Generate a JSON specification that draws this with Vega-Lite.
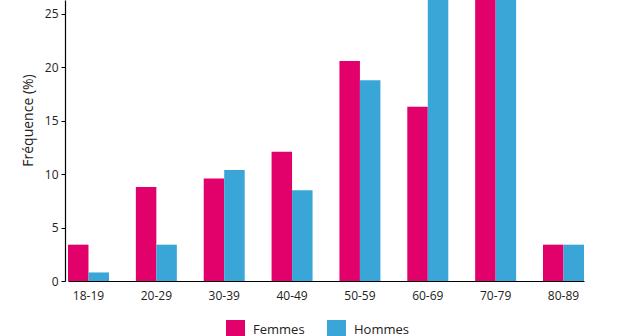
{
  "$schema": "https://vega.github.io/schema/vega-lite/v6.json",
  "autosize": "none",
  "width": 535,
  "height": 281,
  "padding": {"left": 65, "top": 0, "right": 23, "bottom": 55},
  "background": "white",
  "config": {
    "font": "Open Sans",
    "view": {"stroke": null},
    "axis": {"labelFont": "Open Sans", "titleFont": "Open Sans", "grid": false}
  },
  "data": {
    "values": [
      {"age": "18-19", "sexe": "Femmes", "freq": 3.4},
      {"age": "18-19", "sexe": "Hommes", "freq": 0.8},
      {"age": "20-29", "sexe": "Femmes", "freq": 8.8},
      {"age": "20-29", "sexe": "Hommes", "freq": 3.4},
      {"age": "30-39", "sexe": "Femmes", "freq": 9.6},
      {"age": "30-39", "sexe": "Hommes", "freq": 10.4},
      {"age": "40-49", "sexe": "Femmes", "freq": 12.1},
      {"age": "40-49", "sexe": "Hommes", "freq": 8.5},
      {"age": "50-59", "sexe": "Femmes", "freq": 20.6},
      {"age": "50-59", "sexe": "Hommes", "freq": 18.8},
      {"age": "60-69", "sexe": "Femmes", "freq": 16.3},
      {"age": "60-69", "sexe": "Hommes", "freq": 27.5},
      {"age": "70-79", "sexe": "Femmes", "freq": 27.0},
      {"age": "70-79", "sexe": "Hommes", "freq": 27.2},
      {"age": "80-89", "sexe": "Femmes", "freq": 3.4},
      {"age": "80-89", "sexe": "Hommes", "freq": 3.4}
    ]
  },
  "mark": {"type": "bar", "clip": true},
  "encoding": {
    "x": {
      "field": "age",
      "type": "nominal",
      "sort": null,
      "scale": {"range": [3, 519], "paddingInner": 0.396, "paddingOuter": 0},
      "axis": {
        "title": null,
        "labelAngle": 0,
        "ticks": false,
        "domainColor": "#000000",
        "domainWidth": 1.2,
        "labelColor": "#222222",
        "labelFontSize": 12,
        "labelPadding": 9
      }
    },
    "xOffset": {"field": "sexe", "type": "nominal", "scale": {"paddingInner": 0, "paddingOuter": 0}},
    "y": {
      "field": "freq",
      "type": "quantitative",
      "scale": {"domain": [0, 26.3], "nice": false, "zero": true},
      "axis": {
        "title": "Fréquence (%)",
        "values": [0, 5, 10, 15, 20, 25],
        "domainColor": "#000000",
        "domainWidth": 1.2,
        "tickColor": "#000000",
        "tickSize": 4,
        "labelColor": "#222222",
        "labelFontSize": 12,
        "labelPadding": 3,
        "titleFontSize": 14,
        "titleFontWeight": "normal",
        "titleColor": "#222222",
        "titleY": 120,
        "titleX": -37,
        "titleAngle": 270,
        "titleAlign": "center",
        "titleBaseline": "middle"
      }
    },
    "color": {
      "field": "sexe",
      "type": "nominal",
      "scale": {"domain": ["Femmes", "Hommes"], "range": ["#E2006B", "#39A6D7"]},
      "legend": {
        "title": null,
        "orient": "none",
        "direction": "horizontal",
        "legendX": 161,
        "legendY": 320,
        "symbolType": "square",
        "symbolSize": 361,
        "symbolStrokeWidth": 0,
        "symbolOpacity": 1,
        "labelFontSize": 13,
        "labelColor": "#222222",
        "labelOffset": 8,
        "columnPadding": 22
      }
    }
  }
}
